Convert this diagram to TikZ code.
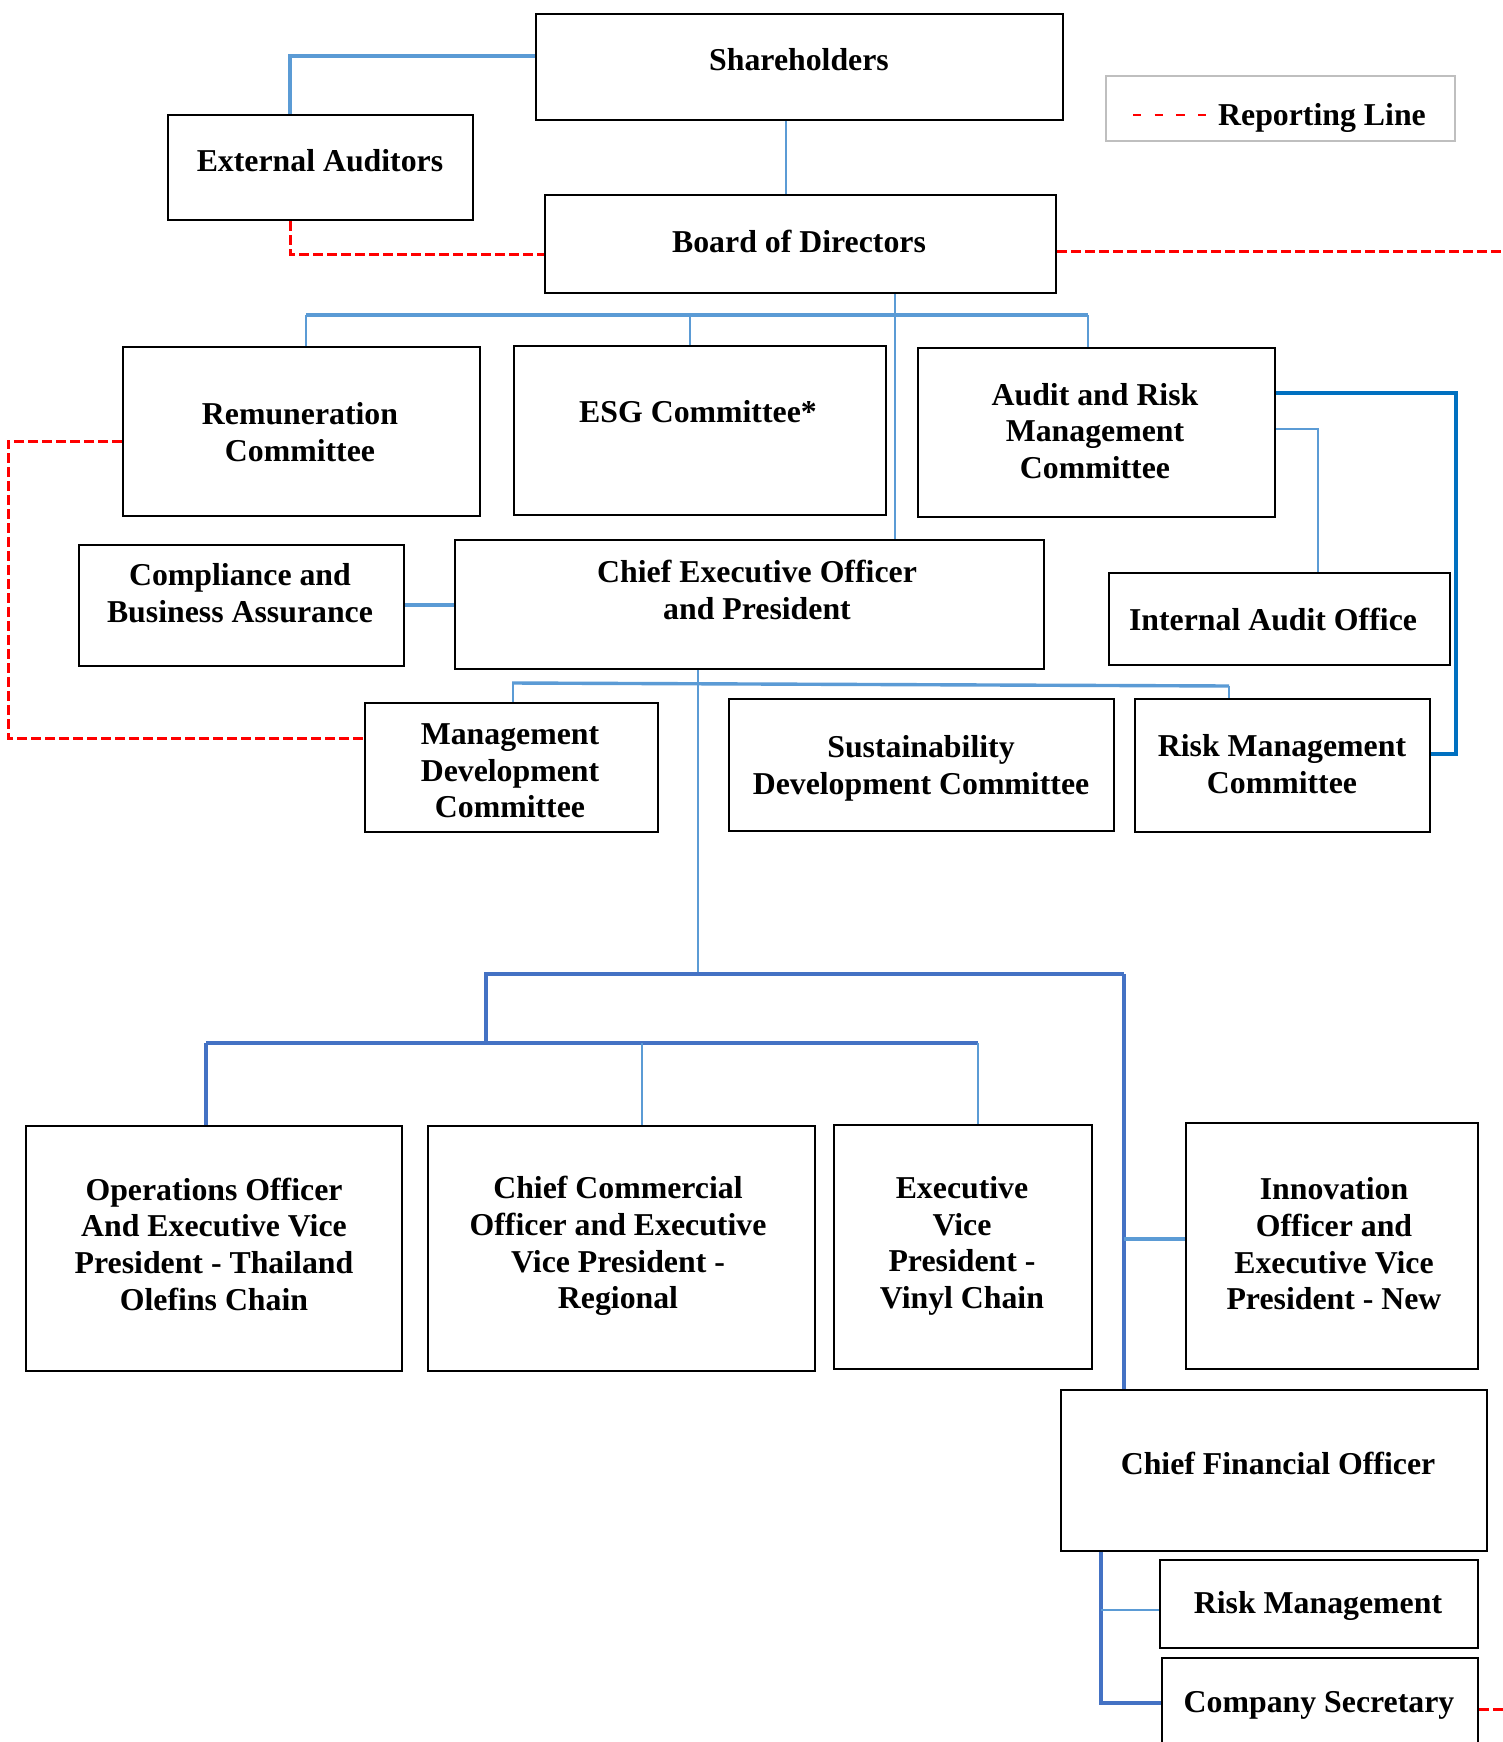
\documentclass[tikz,border=0pt]{standalone}
\usepackage{fontspec}
\setmainfont{Liberation Serif}
\definecolor{lb}{RGB}{91,155,213}
\definecolor{mb}{RGB}{68,114,196}
\definecolor{dkb}{RGB}{0,112,192}
\definecolor{rl}{RGB}{255,0,0}
\definecolor{lg}{RGB}{191,191,191}
\newcommand\obox[5]{\node[box,minimum width={#4-#2},minimum height={#5-#3}] (#1) at (#2,#3) {};}
\begin{document}
\begin{tikzpicture}[x=1pt,y=-1pt,
  box/.style={draw=black,line width=2pt,rectangle,inner sep=0pt,anchor=north west},
  lbl/.style={font=\bfseries\fontsize{31.8}{36.7}\selectfont,align=center,inner sep=0pt},
  lbline/.style={draw=lb,line width=2.8pt},
  lbbus/.style={draw=lb,line width=3.4pt},
  mbline/.style={draw=mb,line width=3.2pt},
  dkline/.style={draw=dkb,line width=3.2pt},
  rdash/.style={draw=rl,line width=3pt,dash pattern=on 10pt off 4pt}]
\clip (0,0) rectangle (1503,1742);
\fill[white] (0,0) rectangle (1503,1742);
% boxes
\obox{sh}{535}{13}{1062}{119}
\obox{ea}{167}{114}{472}{219}
\node[box,draw=lg,minimum width=349,minimum height=65] (leg) at (1105,75) {};
\obox{bod}{544}{194}{1055}{292}
\obox{rem}{122}{346}{479}{515}
\obox{esg}{513}{345}{885}{514}
\obox{arm}{917}{347}{1274}{516}
\obox{cba}{78}{544}{403}{665}
\obox{ceo}{454}{539}{1043}{668}
\obox{iao}{1108}{572}{1449}{664}
\obox{mdc}{364}{702}{657}{831}
\obox{sdc}{728}{698}{1113}{830}
\obox{rmc}{1134}{698}{1429}{831}
\obox{ops}{25}{1125}{401}{1370}
\obox{cco}{427}{1125}{814}{1370}
\obox{evp}{833}{1124}{1091}{1368}
\obox{ino}{1185}{1122}{1477}{1368}
\obox{cfo}{1060}{1389}{1486}{1550}
\obox{rm}{1159}{1559}{1477}{1647}
\obox{cs}{1161}{1657}{1477}{1790}
% texts
\node[lbl] (tsh) at (799,60) {Shareholders};
\node[lbl] (tea) at (320,161) {External Auditors};
\node[lbl] (tbod) at (799,241) {Board of Directors};
\node[lbl] (trem) at (300,432) {Remuneration\\Committee};
\node[lbl] (tesg) at (698,412) {ESG Committee*};
\node[lbl] (tarm) at (1095,431) {Audit and Risk\\Management\\Committee};
\node[lbl] (tcba) at (240,593) {Compliance and\\Business Assurance};
\node[lbl] (tceo) at (757,590) {Chief Executive Officer\\and President};
\node[lbl] (tiao) at (1273,619) {Internal Audit Office};
\node[lbl] (tmdc) at (510,771) {Management\\Development\\Committee};
\node[lbl] (tsdc) at (921,768) {Sustainability\\Development Committee};
\node[lbl] (trmc) at (1282,764) {Risk Management\\Committee};
\node[lbl] (tops) at (214,1244) {Operations Officer\\And Executive Vice\\President - Thailand\\Olefins Chain};
\node[lbl] (tcco) at (618,1246) {Chief Commercial\\Officer and Executive\\Vice President -\\Regional};
\node[lbl] (tevp) at (962,1246) {Executive\\Vice\\President -\\Vinyl Chain};
\node[lbl] (tino) at (1334,1244) {Innovation\\Officer and\\Executive Vice\\President - New};
\node[lbl] (tcfo) at (1278,1463) {Chief Financial Officer};
\node[lbl] (trm) at (1318,1606) {Risk Management};
\node[lbl] (tcs) at (1319,1705) {Company Secretary};
\node[lbl,anchor=base west] (tleg) at (1218,125) {Reporting Line};
\coordinate (legA) at (1133,115);
\coordinate (legB) at (1208,115);
\draw[draw=rl,line width=2.5pt,dash pattern=on 8.3pt off 13.4pt] (legA) -- (legB);
% connectors top
\draw[lbbus] (sh.west |- 0,56) -| (ea.north -| 290,0);
\draw[lbline] (sh.south -| 786,0) -- (bod.north -| 786,0);
\draw[rdash] (ea.south -| 290,0) |- (bod.west |- 0,254);
\coordinate (rEdge) at (1503,251);
\draw[rdash] (bod.east |- rEdge) -- (rEdge);
\draw[lbline] (bod.south -| 895,0) -- (ceo.north -| 895,0);
\coordinate (bus1) at (690,315);
\draw[lbbus] (306,315) -- (1088,315);
\draw[lbline] (rem.north -| 306,0) -- (306,315);
\draw[lbline] (esg.north -| bus1) -- (bus1);
\draw[lbline] (arm.north -| 1088,0) -- (1088,315);
\draw[dkline] (arm.east |- 0,393) -| (1456,754) -- (rmc.east |- 0,754);
\draw[lbline] (arm.east |- 0,429) -| (iao.north -| 1318,0);
\draw[rdash] (rem.west |- 0,441) -| (8,738) -- (mdc.west |- 0,738);
\draw[draw=lb,line width=4pt] (cba.east |- 0,605) -- (ceo.west |- 0,605);
% CEO down
\coordinate (j1) at (698,974);
\draw[lbline] (ceo.south -| j1) -- (j1);
\draw[lbbus] (512,683) -- (1229,686);
\draw[lbline] (mdc.north -| 513,0) -- (513,684);
\draw[lbline] (rmc.north -| 1229,0) -- (1229,686);
\draw[mbline] (486,1043) |- (1124,974);
\draw[mbline] (206,1043) -- (978,1043);
\draw[mbline] (ops.north -| 206,0) -- (206,1043);
\draw[lbline] (cco.north -| 642,0) -- (642,1043);
\draw[lbline] (evp.north -| 978,0) -- (978,1043);
\draw[mbline] (1124,974) -- (cfo.north -| 1124,0);
\draw[lbbus] (1124,1239) -- (ino.west |- 0,1239);
% CFO
\draw[mbline] (cfo.south -| 1101,0) |- (cs.west |- 0,1703);
\draw[lbline] (1101,1610) -- (rm.west |- 0,1610);
\coordinate (rEdge2) at (1503,1709);
\draw[rdash] (cs.east |- rEdge2) -- (rEdge2);
\end{tikzpicture}
\end{document}
